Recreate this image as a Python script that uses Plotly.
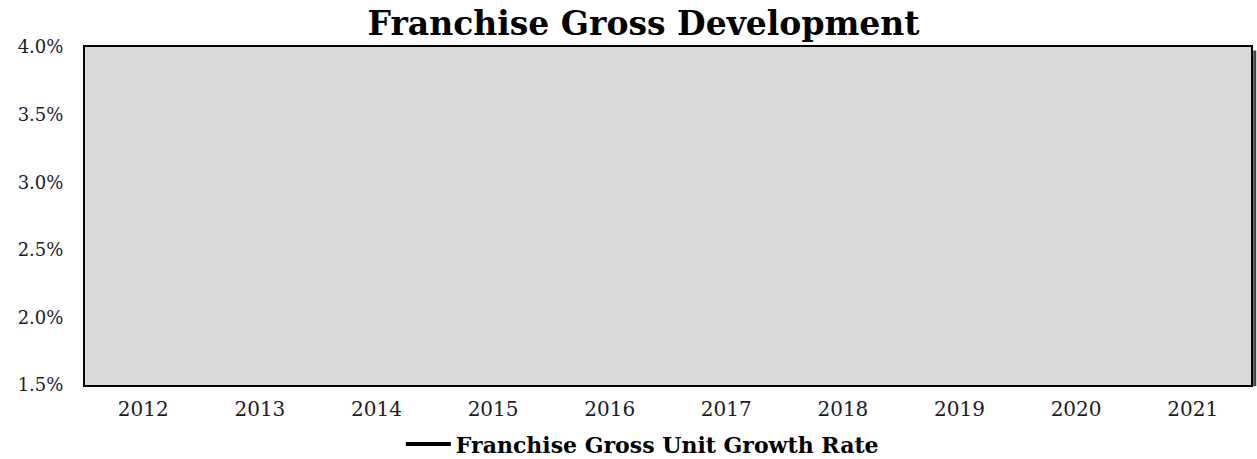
import plotly.graph_objects as go

years = ["2012", "2013", "2014", "2015", "2016", "2017", "2018", "2019", "2020", "2021"]
growth_rate = [None, None, None, None, None, None, None, None, None, None]
y_ticks = [0.015, 0.020, 0.025, 0.030, 0.035, 0.040]

fig = go.Figure()
fig.add_trace(go.Scatter(
    x=years, y=growth_rate, mode="lines",
    name="Franchise Gross Unit Growth Rate",
    line=dict(color="black", width=4),
    showlegend=True,
))

fig.update_layout(
    width=1257, height=459,
    margin=dict(l=85, r=6, t=47, b=74, autoexpand=False),
    paper_bgcolor="white",
    plot_bgcolor="#d9d9d9",
    title=dict(text="<b>Franchise Gross Development</b>", x=0.512, xanchor="center",
               y=0.948, yanchor="middle",
               font=dict(family="DejaVu Serif", size=33, color="black")),
    font=dict(family="DejaVu Serif", color="#1a1a2a"),
    legend=dict(orientation="h", x=0.478, xanchor="center",
                yref="container", y=0.032, yanchor="middle",
                font=dict(family="DejaVu Serif", size=22, color="black", weight="bold"),
                bgcolor="rgba(0,0,0,0)", itemwidth=45),
    showlegend=True,
)
fig.update_xaxes(type="category", categoryorder="array", categoryarray=years,
                 range=[-0.5, 9.5], showgrid=False, zeroline=False, automargin=False,
                 showline=True, linecolor="black", linewidth=2, mirror=True,
                 ticks="", ticklabelstandoff=5,
                 tickfont=dict(family="DejaVu Serif", size=20, color="#1a1a2a"))
fig.update_yaxes(range=[0.015, 0.040], tickvals=y_ticks, tickformat=".1%",
                 showgrid=False, zeroline=False, automargin=False,
                 showline=True, linecolor="black", linewidth=2, mirror=True,
                 ticks="", ticklabelstandoff=16,
                 tickfont=dict(family="DejaVu Serif", size=18, color="#1a1a2a"))

# drop shadow on right edge
fig.add_shape(type="line", xref="paper", yref="paper", x0=1.0032, x1=1.0032, y0=-0.004, y1=0.99,
              line=dict(color="#444444", width=3))

fig.write_html("out.html", config={"displayModeBar": False},
               post_script="document.body.style.margin='0';")
